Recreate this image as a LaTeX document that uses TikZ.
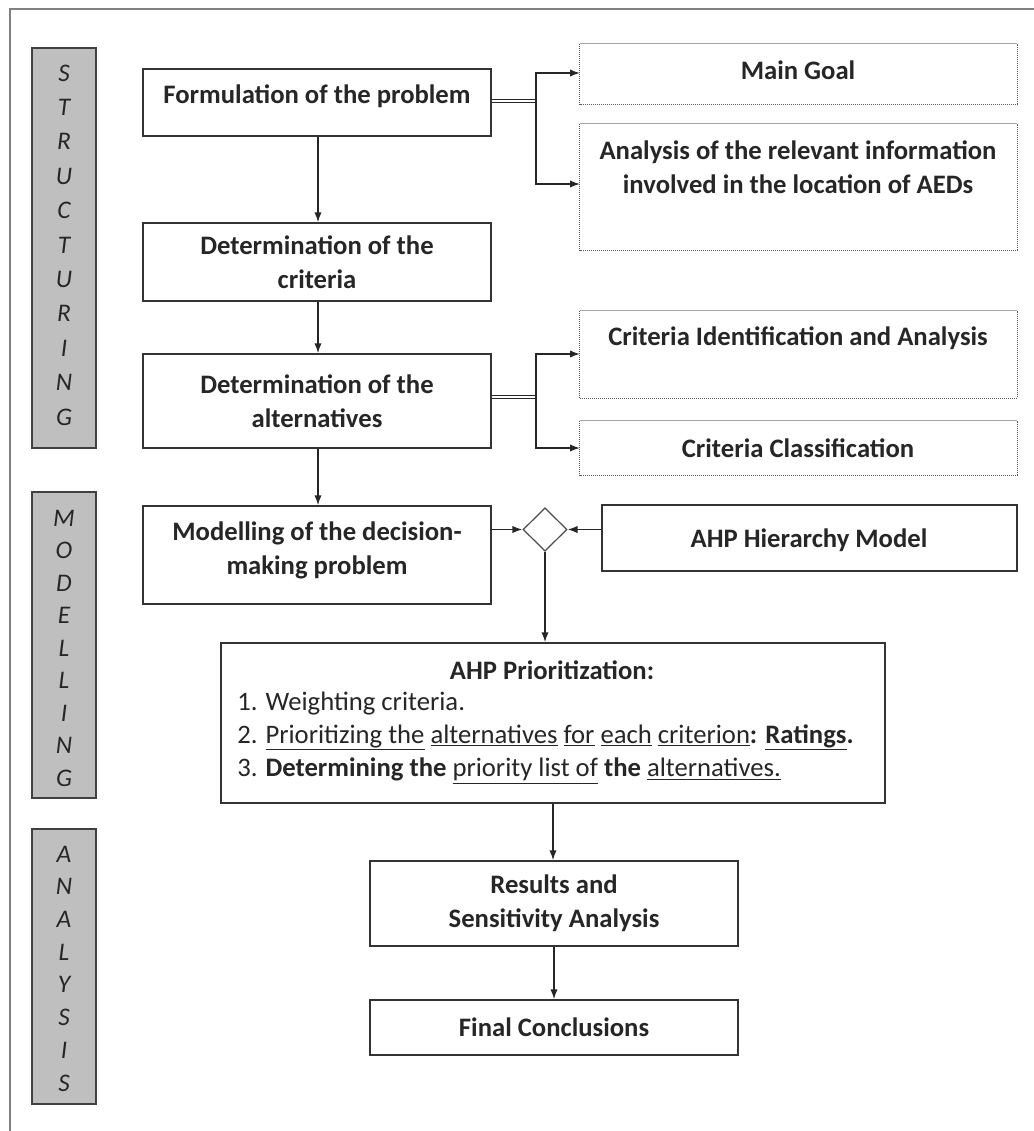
\documentclass[tikz,border=0pt]{standalone}
\usepackage{fontspec}
\setmainfont{Carlito}
\usetikzlibrary{arrows.meta,fit,shapes.geometric}
\newcommand{\myul}[1]{\underline{#1}}
\begin{document}
\begin{tikzpicture}[x=0.75pt,y=-0.75pt,
  box/.style={draw=black!80, line width=1.1pt, inner sep=0pt},
  dbox/.style={draw=none, inner sep=0pt},
  dots/.style={draw=black!65, line width=0.9pt, dash pattern=on 0.75pt off 0.75pt},
  dtop/.style={draw=black!35, line width=1pt},
  side/.style={draw=black!75, fill=black!25, line width=1.1pt, inner sep=0pt},
  txt/.style={font=\fontsize{20}{25.5}\selectfont\bfseries, text=black!85, align=center, inner sep=0pt},
  ltxt/.style={font=\fontsize{20}{25.5}\selectfont, text=black!85, align=left, inner sep=0pt, anchor=west},
  ltr/.style={font=\fontsize{19}{22}\selectfont\itshape, text=black!85, inner sep=0pt},
  arr/.style={draw=black!85, line width=1.1pt, -{Latex[length=7.5pt,width=5.5pt]}},
  dbl/.style={draw=black!85, line width=1.1pt, double=white, double distance=1.5pt},
  frame/.style={draw=black!50, line width=1.4pt},
]
\useasboundingbox[fill=white] (0,0) rectangle (1034,1131);
% outer frame
\coordinate (fbl) at (10,1131);
\coordinate (ftl) at (10,9);
\coordinate (ftr) at (1034,9);
\draw[frame] (fbl) -- (ftl) -- (ftr);

% sidebars
\node[side, fit={(32,48) (96,448)}] (s1) {};
\node[side, fit={(32,492) (96,798)}] (s2) {};
\node[side, fit={(32,829) (96,1104)}] (s3) {};
\foreach \l [count=\i] in {S,T,R,U,C,T,U,R,I,N,G}
  \node[ltr] (sa\i) at (64,{73+(\i-1)*34.4}) {\l};
\foreach \l [count=\i] in {M,O,D,E,L,L,I,N,G}
  \node[ltr] (sb\i) at (64,{518+(\i-1)*32.5}) {\l};
\foreach \l [count=\i] in {A,N,A,L,Y,S,I,S}
  \node[ltr] (sc\i) at (64,{854+(\i-1)*32.7}) {\l};

% main boxes
\node[box, fit={(143,69) (491,136)}] (f) {};
\node[txt] (ft) at (317,96) {Formulation of the problem};
\node[box, fit={(143,223) (491,301)}] (c) {};
\node[txt] (ct) at (317,262) {Determination of the\\criteria};
\node[box, fit={(143,354) (491,448)}] (a) {};
\node[txt] (at) at (317,401) {Determination of the\\alternatives};
\node[box, fit={(143,506) (491,604)}] (m) {};
\node[txt] (mt) at (317,550) {Modelling of the decision-\\making problem};
\node[box, fit={(602,505) (1017,571)}] (h) {};
\node[txt] (ht) at (809,540) {AHP Hierarchy Model};
\node[draw=black!70, line width=0.9pt, diamond, aspect=1, minimum width=33pt, minimum height=32.5pt, inner sep=0pt] (dia) at (545,529.5) {};
\node[box, fit={(221,643) (885,803)}] (p) {};
\node[txt] (pt) at (552,670) {AHP Prioritization:};
\node[ltxt] (p1) at (237,704) {1. Weighting criteria.};
\node[ltxt] (p2) at (237,737.5) {2. \myul{Prioritizing the} \myul{alternatives} \myul{for} \myul{each} \myul{criterion}\textbf{: \myul{Ratings}.}};
\node[ltxt] (p3) at (237,771) {3. \textbf{Determining the} \myul{priority list of} \textbf{the} \myul{alternatives.}};
\node[box, fit={(370,861) (738,946)}] (r) {};
\node[txt] (rt) at (554,903.5) {Results and\\Sensitivity Analysis};
\node[box, fit={(370,1000) (738,1055)}] (fc) {};
\node[txt] (fct) at (554,1027) {Final Conclusions};

% dotted boxes
\node[dbox, fit={(580,44) (1017,104)}] (g) {};
\node[txt] (gt) at (798,70) {Main Goal};
\node[dbox, fit={(580,124) (1017,250)}] (an) {};
\node[txt] (ant) at (798,167.5) {Analysis of the relevant information\\involved in the location of AEDs};
\node[dbox, fit={(580,311) (1017,398)}] (ci) {};
\node[txt] (cit) at (798,338) {Criteria Identification and Analysis};
\node[dbox, fit={(580,421) (1017,475)}] (cc) {};
\node[txt] (cct) at (798,448) {Criteria Classification};
\foreach \n in {g,an,ci,cc}{
  \draw[dots] (\n.north west) -- (\n.south west) -- (\n.south east) -- (\n.north east);
  \draw[dtop] (\n.north west) -- (\n.north east);
}

% vertical flow
\draw[arr] (f.south -| 318,0) -- (c.north -| 318,0);
\draw[arr] (c.south -| 318,0) -- (a.north -| 318,0);
\draw[arr] (a.south -| 318,0) -- (m.north -| 318,0);
\draw[arr] (m.east |- dia.west) -- (dia.west);
\draw[arr] (h.west |- dia.east) -- (dia.east);
\draw[arr] (dia.south) -- (p.north -| dia.south);
\draw[arr] (p.south -| 553,0) -- (r.north -| 553,0);
\draw[arr] (r.south -| 554,0) -- (fc.north -| 554,0);

% branch from formulation
\coordinate (fb) at (536,101);
\coordinate (gin) at (580,73);
\coordinate (ain) at (580,184);
\draw[dbl] (f.east |- fb) -- (fb);
\draw[arr] (fb) |- (gin);
\draw[arr] (fb) |- (ain);

% branch from alternatives
\coordinate (ab) at (536,397);
\coordinate (ciin) at (580,354);
\coordinate (ccin) at (580,448);
\draw[dbl] (a.east |- ab) -- (ab);
\draw[arr] (ab) |- (ciin);
\draw[arr] (ab) |- (ccin);
\end{tikzpicture}
\end{document}
